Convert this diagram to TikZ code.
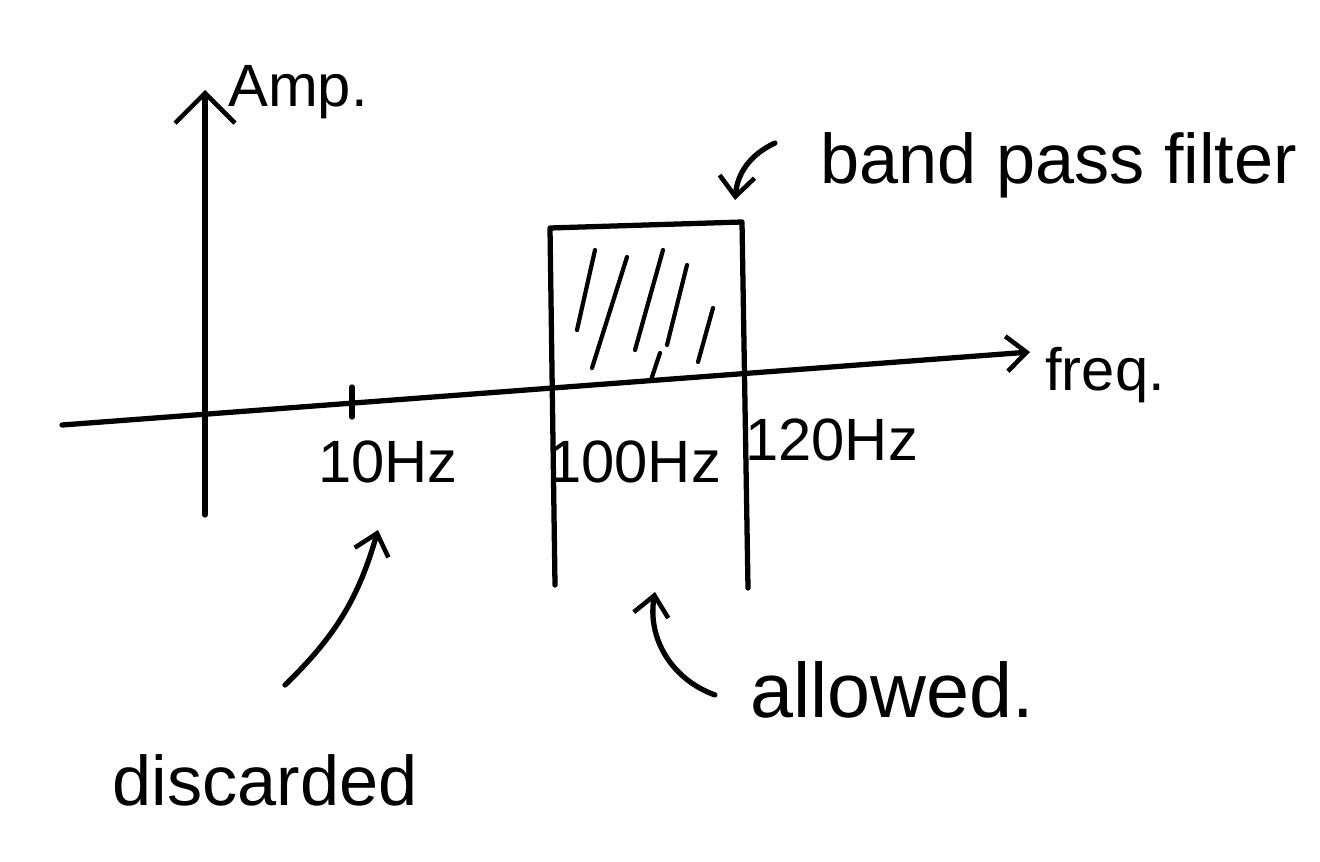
\documentclass[tikz,border=0pt]{standalone}
\usepackage{fontspec}
\setmainfont{Liberation Sans}
\usetikzlibrary{arrows.meta}

\tikzset{
  pen/.style={line width=3pt, line cap=round, line join=round},
  hatch/.style={line width=2.4pt, line cap=round},
  pointer/.style={pen, -{Straight Barb[length=4mm, width=7mm, line width=2.6pt]}},
  handtext/.style={font=\fontsize{34}{38}\selectfont, inner sep=0pt},
  bigtext/.style={font=\fontsize{40}{44}\selectfont, inner sep=0pt}
}

\begin{document}
\begin{tikzpicture}[x=0.02cm, y=-0.02cm]
                  \useasboundingbox (0,0) rectangle (1320,862);

                  % Define points
                  \coordinate (O) at (62,425);
                  \coordinate (X) at (1030,352);
                  \coordinate (Ybot) at (205,515);
                  \coordinate (Ytop) at (205,90);
                  \coordinate (T1a) at (352,387);
                  \coordinate (T1b) at (352,417);
                  \coordinate (BL) at (555,585);
                  \coordinate (TL) at (550,228);
                  \coordinate (TR) at (742,222);
                  \coordinate (BR) at (748,588);

                  % Draw axes
                  \draw[pointer] (O) -- (X);
                  \draw[pen, -{Straight Barb[length=6mm, width=12mm, line width=2.6pt]}] (Ybot) -- (Ytop);
                  \draw[pen] (T1a) -- (T1b);

                  % Draw band pass filter
                  \draw[pen] (BL) -- (TL) -- (TR) -- (BR);
                  \draw[hatch] (595,250) -- (577,330);
                  \draw[hatch] (627,257) -- (592,368);
                  \draw[hatch] (663,250) -- (635,350);
                  \draw[hatch] (687,265) -- (667,345);
                  \draw[hatch] (660,353) -- (651,380);
                  \draw[hatch] (713,308) -- (698,362);

                  % Labels
                  \node[handtext, anchor=west] (amp) at (228,92) {Amp.};
                  \node[handtext, anchor=west] (freq) at (1045,375) {freq.};
                  \node[handtext] (f10) at (388,462) {10Hz};
                  \node[handtext, anchor=west] (f100) at (548,462) {100Hz};
                  \node[handtext, anchor=west] (f120) at (745,440) {120Hz};
                  \node[bigtext, anchor=west] (bpf) at (820,165) {band pass filter};
                  \node[bigtext] (disc) at (265,780) {discarded};
                  \node[bigtext, font=\fontsize{44}{48}\selectfont, anchor=west] (allow) at (750,690) {allowed.};

                  % Pointers
                  \coordinate (discstart) at (285,685);
                  \coordinate (disctip) at (378,530);
                  \coordinate (allowstart) at (715,695);
                  \coordinate (allowtip) at (655,592);
                  \coordinate (bpfstart) at (775,143);
                  \coordinate (bpftip) at (735,200);
                  \draw[pointer] (discstart) to[bend right=15] (disctip);
                  \draw[pointer] (allowstart) to[bend left=40] (allowtip);
                  \draw[pointer] (bpfstart) to[bend right=30] (bpftip);

              \end{tikzpicture}
\end{document}
